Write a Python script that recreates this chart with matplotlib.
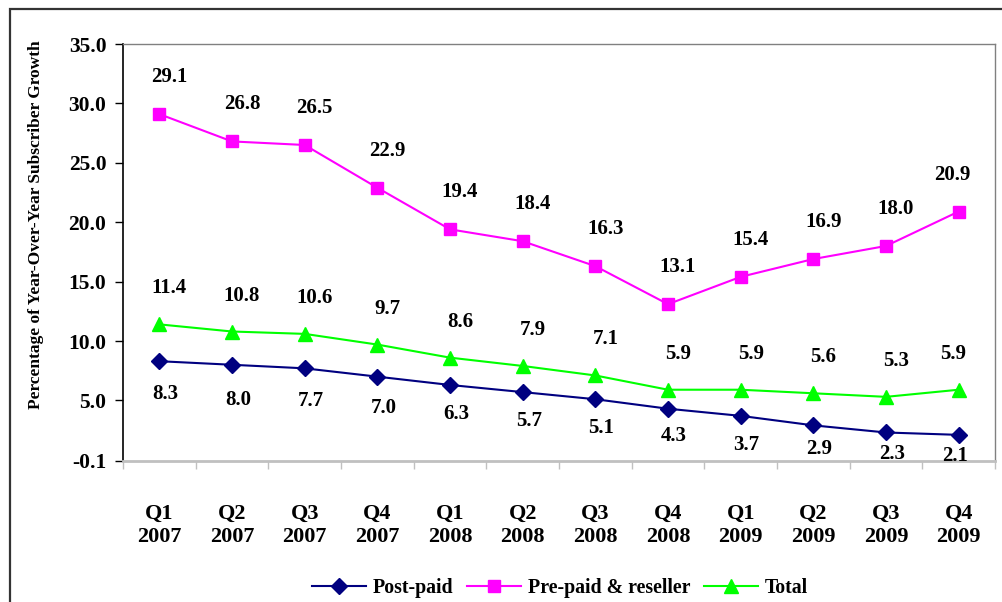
import matplotlib
matplotlib.use("Agg")
import matplotlib.pyplot as plt
from matplotlib.patches import Rectangle
import numpy as np

categories = ["Q1\n2007", "Q2\n2007", "Q3\n2007", "Q4\n2007",
              "Q1\n2008", "Q2\n2008", "Q3\n2008", "Q4\n2008",
              "Q1\n2009", "Q2\n2009", "Q3\n2009", "Q4\n2009"]
post_paid = [8.3, 8.0, 7.7, 7.0, 6.3, 5.7, 5.1, 4.3, 3.7, 2.9, 2.3, 2.1]
pre_paid = [29.1, 26.8, 26.5, 22.9, 19.4, 18.4, 16.3, 13.1, 15.4, 16.9, 18.0, 20.9]
total = [11.4, 10.8, 10.6, 9.7, 8.6, 7.9, 7.1, 5.9, 5.9, 5.6, 5.3, 5.9]
ytick_values = [-0.1, 5, 10, 15, 20, 25, 30, 35]

# label offsets in pixels (layout only)
post_label_dy = [-33, -35, -33, -31, -29, -29, -29, -27, -29, -24, -22, -21]

plt.rcParams['font.family'] = ['Liberation Serif', 'DejaVu Serif']
plt.rcParams['font.weight'] = 'bold'

DPI = 100
fig = plt.figure(figsize=(10.02, 6.02), dpi=DPI)
W, H = 1002, 602
ax = fig.add_axes([123 / W, 1 - 461 / H, (995 - 123) / W, (461 - 44) / H])

x = np.arange(len(categories))
c_post, c_pre, c_tot = "#000080", "#FF00FF", "#00FF00"
ax.plot(x, post_paid, color=c_post, lw=1.5, marker="D", ms=8, mec=c_post, mfc=c_post, label="Post-paid", clip_on=False)
ax.plot(x, pre_paid, color=c_pre, lw=1.5, marker="s", ms=8, mec=c_pre, mfc=c_pre, label="Pre-paid & reseller", clip_on=False)
ax.plot(x, total, color=c_tot, lw=1.5, marker="^", ms=10, mec=c_tot, mfc=c_tot, label="Total", clip_on=False)

px = 72.0 / DPI
fs_lab = 15
for i in range(len(x)):
    dx = 10 if i < len(x) - 1 else -6
    ax.annotate(f"{pre_paid[i]:.1f}", (x[i], pre_paid[i]), xytext=(dx * px, 37 * px),
                textcoords="offset points", ha="center", va="center", fontsize=fs_lab,
                fontweight="bold", annotation_clip=False)
    ax.annotate(f"{total[i]:.1f}", (x[i], total[i]), xytext=(dx * px, 36 * px),
                textcoords="offset points", ha="center", va="center", fontsize=fs_lab,
                fontweight="bold", annotation_clip=False)
    ax.annotate(f"{post_paid[i]:.1f}", (x[i], post_paid[i]), xytext=(dx * 0.6 * px, post_label_dy[i] * px),
                textcoords="offset points", ha="center", va="center", fontsize=fs_lab,
                fontweight="bold", annotation_clip=False)

ax.set_xlim(-0.5, len(x) - 0.5)
ax.set_ylim(-0.1, 35)

ax.set_yticks(ytick_values)
ax.set_yticklabels([f"{v:.1f}" for v in ytick_values], fontsize=15.5, fontweight="bold")
ax.tick_params(axis="y", direction="out", length=6, width=1, color="black", pad=6)

ax.set_xticks(np.arange(-0.5, len(x) + 0.5, 1.0))
ax.set_xticklabels([])
ax.set_xticks(x, minor=True)
ax.set_xticklabels(categories, minor=True, fontsize=16, fontweight="bold", linespacing=1.22)
ax.tick_params(axis="x", which="major", direction="out", length=6, width=1, color="#C0C0C0")
ax.tick_params(axis="x", which="minor", length=0, pad=31)

for s in ["top", "right"]:
    ax.spines[s].set_color("#808080")
    ax.spines[s].set_linewidth(1)
ax.spines["left"].set_color("black")
ax.spines["left"].set_linewidth(1.2)
ax.spines["bottom"].set_color("#C0C0C0")
ax.spines["bottom"].set_linewidth(2)

ax.set_ylabel("Percentage of Year-Over-Year Subscriber Growth", fontsize=12.5, fontweight="bold")
ax.yaxis.set_label_coords(-0.091, 0.566)

leg = fig.legend(loc="center", bbox_to_anchor=(560 / W, 1 - 588 / H), ncol=3, frameon=False,
                 handlelength=2.7, columnspacing=0.7, handletextpad=0.35,
                 prop={"weight": "bold", "size": 14.3})

frame = Rectangle((10 / W, -0.05), 1.1, 1 - 9 / H + 0.05, transform=fig.transFigure,
                  fill=False, edgecolor="#333333", lw=1.6, clip_on=False)
fig.patches.append(frame)

fig.savefig("out.png", dpi=DPI)
